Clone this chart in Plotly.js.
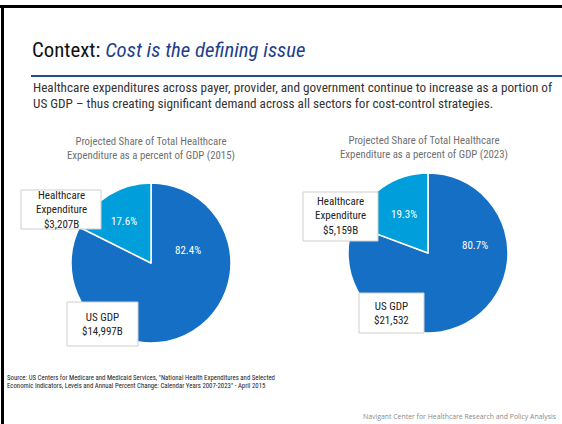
<!DOCTYPE html>
<html>
<head>
<meta charset="utf-8">
<script src="https://cdn.plot.ly/plotly-3.0.1.min.js"></script>
<style>
html,body{margin:0;padding:0;background:#fff;}
#chart{width:562px;height:424px;}
</style>
</head>
<body>
<div id="chart"></div>
<script>
// ---- data ----
const years = ['2015', '2023'];
const categories = ['US GDP', 'Healthcare Expenditure'];
const usGdp = [14997, 21532];              // $B
const healthcareSpend = [3207, 5159];      // $B
const gdpLabels = ['$14,997B', '$21,532'];
const healthcareLabels = ['$3,207B', '$5,159B'];
const chartTitles = [
  'Projected Share of Total Healthcare<br>Expenditure as a percent of GDP (2015)',
  'Projected Share of Total Healthcare<br>Expenditure as a percent of GDP (2023)'
];
const slideTitle = 'Context: ';
const slideTitleItalic = 'Cost is the defining issue';
const subtitleLines = [
  'Healthcare expenditures across payer, provider, and government continue to increase as a portion of',
  'US GDP \u2013 thus creating significant demand across all sectors for cost-control strategies.'
];
const sourceLines = [
  'Source: US Centers for Medicare and Medicaid Services, "National Health Expenditures and Selected',
  'Economic Indicators, Levels and Annual Percent Change: Calendar Years 2007-2023" - April 2015'
];
const footer = 'Navigant Center for Healthcare Research and Policy Analysis';

// ---- layout helpers ----
const W = 562, H = 424;
const px = x => x / W;
const py = y => 1 - y / H;
const NARROW = '"Liberation Sans Narrow", "Arial Narrow", "Roboto Condensed", Arial, sans-serif';
const colors = ['#1570C5', '#009FDB'];

// pie placement (center x, center y, radius) in px
const pies = [
  {cx: 151, cy: 263, r: 80},
  {cx: 428, cy: 253, r: 80}
];
const titlePos = [{x: 151, y: 149}, {x: 424, y: 147}];
const pctPos = [
  {gdp: {x: 188, y: 250}, he: {x: 124, y: 221}},
  {gdp: {x: 475, y: 245}, he: {x: 404, y: 214}}
];
const heBox = [{x0: 21, y0: 190, x1: 101, y1: 229}, {x0: 303, y0: 192, x1: 378, y1: 241}];
const gdpBox = [{x0: 67, y0: 302, x1: 138, y1: 346}, {x0: 359, y0: 293, x1: 424, y1: 333}];

const data = years.map((yr, i) => ({
  type: 'pie',
  labels: categories,
  values: [usGdp[i], healthcareSpend[i]],
  sort: false,
  direction: 'clockwise',
  rotation: 0,
  textinfo: 'none',
  hoverinfo: 'label+value+percent',
  marker: {colors: colors, line: {color: '#ffffff', width: 1.5}},
  domain: {
    x: [px(pies[i].cx - pies[i].r), px(pies[i].cx + pies[i].r)],
    y: [py(pies[i].cy + pies[i].r), py(pies[i].cy - pies[i].r)]
  },
  showlegend: false
}));

const shapes = [
  // slide frame
  {type: 'line', xref: 'paper', yref: 'paper', x0: 0, x1: 1, y0: py(6.5), y1: py(6.5), line: {color: '#000', width: 3}},
  {type: 'line', xref: 'paper', yref: 'paper', x0: px(2.5), x1: px(2.5), y0: py(5), y1: 0, line: {color: '#000', width: 3}},
  // blue rule
  {type: 'line', xref: 'paper', yref: 'paper', x0: px(31), x1: 1, y0: py(76), y1: py(76), line: {color: '#1F4E91', width: 2}}
];
const boxStyle = b => ({type: 'rect', xref: 'paper', yref: 'paper', layer: 'above',
  x0: px(b.x0), x1: px(b.x1), y0: py(b.y1), y1: py(b.y0),
  fillcolor: '#ffffff', line: {color: '#cfcfcf', width: 1}});
heBox.forEach(b => shapes.push(boxStyle(b)));
gdpBox.forEach(b => shapes.push(boxStyle(b)));

const ann = [];
function txt(x, y, text, opts) {
  ann.push(Object.assign({xref: 'paper', yref: 'paper', x: px(x), y: py(y), text: text,
    showarrow: false, xanchor: 'left', yanchor: 'middle'}, opts));
}
txt(30, 50, slideTitle + '<i><span style="color:#1F3F8C">' + slideTitleItalic + '</span></i>',
  {font: {family: NARROW, size: 20.8, color: '#111'}});
txt(31, 87, subtitleLines[0], {font: {family: NARROW, size: 13.2, color: '#333'}});
txt(31, 103, subtitleLines[1], {font: {family: NARROW, size: 13.2, color: '#333'}});

years.forEach((yr, i) => {
  txt(titlePos[i].x, titlePos[i].y, chartTitles[i],
    {xanchor: 'center', align: 'center', font: {family: NARROW, size: 10.8, color: '#707070'}});
  const total = healthcareSpend[i] + usGdp[i];
  const hePct = healthcareSpend[i] / total * 100;
  const gdpPct = usGdp[i] / total * 100;
  txt(pctPos[i].he.x, pctPos[i].he.y, hePct.toFixed(1) + '%',
    {xanchor: 'center', font: {family: NARROW, size: 11, color: '#ffffff'}});
  txt(pctPos[i].gdp.x, pctPos[i].gdp.y, gdpPct.toFixed(1) + '%',
    {xanchor: 'center', font: {family: NARROW, size: 11, color: '#ffffff'}});
  const hb = heBox[i], gb = gdpBox[i];
  txt((hb.x0 + hb.x1) / 2, (hb.y0 + hb.y1) / 2, 'Healthcare<br>Expenditure<br>' + healthcareLabels[i],
    {xanchor: 'center', align: 'center', font: {family: NARROW, size: 11, color: '#222'}});
  txt((gb.x0 + gb.x1) / 2, (gb.y0 + gb.y1) / 2, 'US GDP<br>' + gdpLabels[i],
    {xanchor: 'center', align: 'center', font: {family: NARROW, size: 11, color: '#222'}});
});

txt(5, 378, sourceLines[0], {font: {family: NARROW, size: 6.8, color: '#222'}});
txt(5, 386, sourceLines[1], {font: {family: NARROW, size: 6.8, color: '#222'}});
txt(558, 416, footer, {xanchor: 'right', font: {family: '"Open Sans", "DejaVu Sans", sans-serif', size: 6.9, color: '#8a8a8a'}});

const layout = {
  width: W, height: H,
  margin: {l: 0, r: 0, t: 0, b: 0},
  paper_bgcolor: '#ffffff',
  plot_bgcolor: '#ffffff',
  showlegend: false,
  shapes: shapes,
  annotations: ann
};

Plotly.newPlot('chart', data, layout, {staticPlot: true, displayModeBar: false});
</script>
</body>
</html>
